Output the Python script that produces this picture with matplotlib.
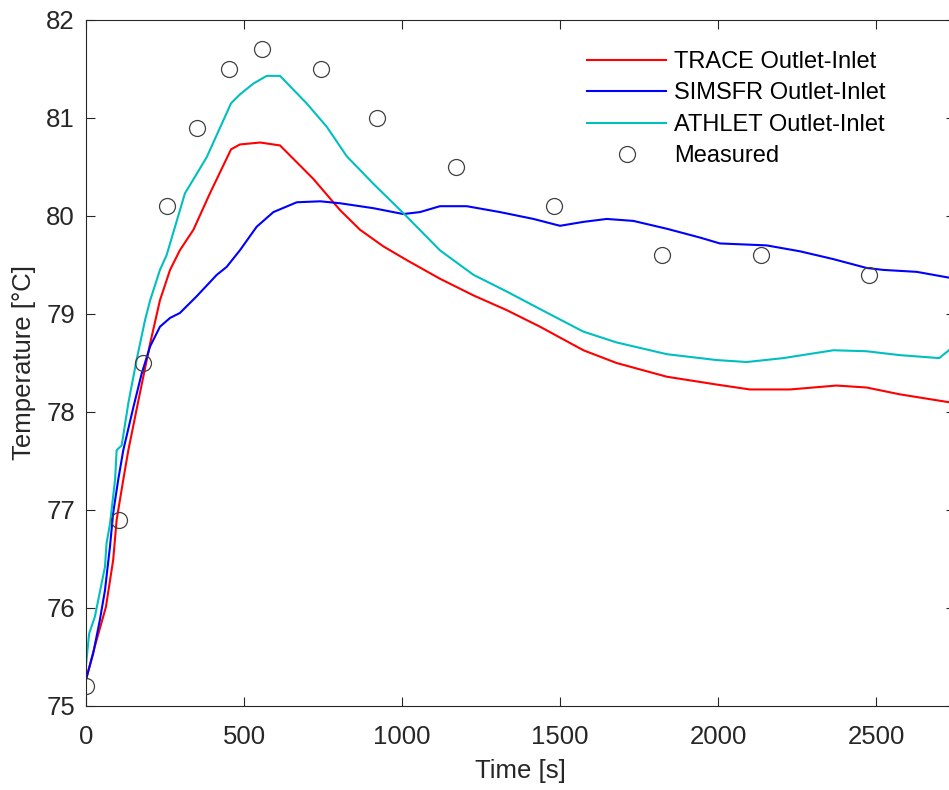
import matplotlib
matplotlib.use("Agg")
import matplotlib.pyplot as plt
import numpy as np

plt.rcParams['font.family'] = ['Liberation Sans', 'DejaVu Sans']

# TRACE Outlet-Inlet
t_trace = [0, 28, 63, 86, 97, 118, 134, 166, 203, 234, 266, 297, 340, 392, 459, 487, 551, 614,
           719, 804, 867, 941, 1015, 1120, 1226, 1331, 1437, 1574, 1679, 1838, 1996, 2101, 2228,
           2375, 2470, 2576, 2750]
T_trace = [75.27, 75.61, 76.01, 76.49, 76.90, 77.31, 77.61, 78.12, 78.70, 79.14, 79.45, 79.65,
           79.86, 80.23, 80.68, 80.73, 80.75, 80.72, 80.38, 80.06, 79.86, 79.69, 79.55, 79.36,
           79.19, 79.04, 78.87, 78.63, 78.50, 78.36, 78.28, 78.23, 78.23, 78.27, 78.25, 78.18, 78.09]

# SIMSFR Outlet-Inlet
t_simsfr = [0, 23, 44, 60, 76, 86, 102, 118, 150, 176, 203, 234, 266, 297, 350, 414, 445, 487,
            540, 593, 667, 741, 804, 909, 1004, 1057, 1120, 1205, 1310, 1416, 1500, 1574, 1648,
            1732, 1838, 1943, 2006, 2154, 2259, 2365, 2470, 2523, 2629, 2750]
T_simsfr = [75.27, 75.54, 75.88, 76.18, 76.63, 76.97, 77.31, 77.61, 78.05, 78.39, 78.67, 78.87,
            78.96, 79.01, 79.18, 79.40, 79.48, 79.65, 79.89, 80.04, 80.14, 80.15, 80.13, 80.08,
            80.02, 80.04, 80.10, 80.10, 80.04, 79.97, 79.90, 79.94, 79.97, 79.95, 79.87, 79.78,
            79.72, 79.70, 79.64, 79.56, 79.47, 79.45, 79.43, 79.36]

# ATHLET Outlet-Inlet
t_athlet = [0, 10, 28, 60, 65, 76, 92, 97, 113, 134, 160, 187, 203, 234, 255, 313, 382, 459, 487,
            529, 572, 614, 698, 762, 825, 909, 1004, 1120, 1226, 1331, 1437, 1574, 1679, 1838,
            1996, 2091, 2207, 2365, 2470, 2576, 2700, 2750]
T_athlet = [75.42, 75.74, 75.91, 76.42, 76.66, 76.86, 77.31, 77.61, 77.66, 78.09, 78.53, 78.94,
            79.14, 79.45, 79.60, 80.23, 80.60, 81.15, 81.24, 81.35, 81.43, 81.43, 81.15, 80.91,
            80.61, 80.33, 80.03, 79.65, 79.40, 79.23, 79.05, 78.82, 78.71, 78.59, 78.53, 78.51,
            78.55, 78.63, 78.62, 78.58, 78.55, 78.68]

# Measured
t_meas = [0, 104, 181, 255, 350, 453, 558, 744, 920, 1170, 1481, 1824, 2136, 2479]
T_meas = [75.2, 76.9, 78.5, 80.1, 80.9, 81.5, 81.7, 81.5, 81.0, 80.5, 80.1, 79.6, 79.6, 79.4]

W, H = 949, 790
fig = plt.figure(figsize=(W / 100, H / 100), dpi=100)
# axes box runs past the right edge of the picture, like the cropped original
ax = fig.add_axes([86 / W, (H - 706) / H, (955 - 86) / W, (706 - 20) / H])

lw = 1.5
ax.plot(t_trace, T_trace, color='red', lw=lw, label='TRACE Outlet-Inlet')
ax.plot(t_simsfr, T_simsfr, color='blue', lw=lw, label='SIMSFR Outlet-Inlet')
ax.plot(t_athlet, T_athlet, color=(0, 0.75, 0.75), lw=lw, label='ATHLET Outlet-Inlet')
ax.plot(t_meas, T_meas, 'o', mfc='none', mec='#404040', ms=11.5, mew=0.9, label='Measured')

ax.set_xlim(0, 2750)
ax.set_ylim(75, 82)
ax.set_xticks([0, 500, 1000, 1500, 2000, 2500])
ax.set_yticks(range(75, 83))

for s in ax.spines.values():
    s.set_color('#262626')
    s.set_linewidth(0.8)
ax.tick_params(direction='in', length=6.5, width=0.8, color='#262626', labelcolor='#262626',
               labelsize=18.5, top=True, right=True)
ax.tick_params(axis='x', pad=14)
ax.tick_params(axis='y', pad=8)

ax.set_xlabel('Time [s]', fontsize=18.5, color='#262626', labelpad=7)
ax.set_ylabel('Temperature [°C]', fontsize=18.5, color='#262626', labelpad=7)

ax.legend(loc='upper left', bbox_to_anchor=(587 / W, 1 - 51 / H), bbox_transform=fig.transFigure,
          frameon=False, fontsize=17, handlelength=3.35, handletextpad=0.35, labelspacing=0.40,
          borderpad=0, borderaxespad=0)

fig.savefig('out.png', dpi=100)
